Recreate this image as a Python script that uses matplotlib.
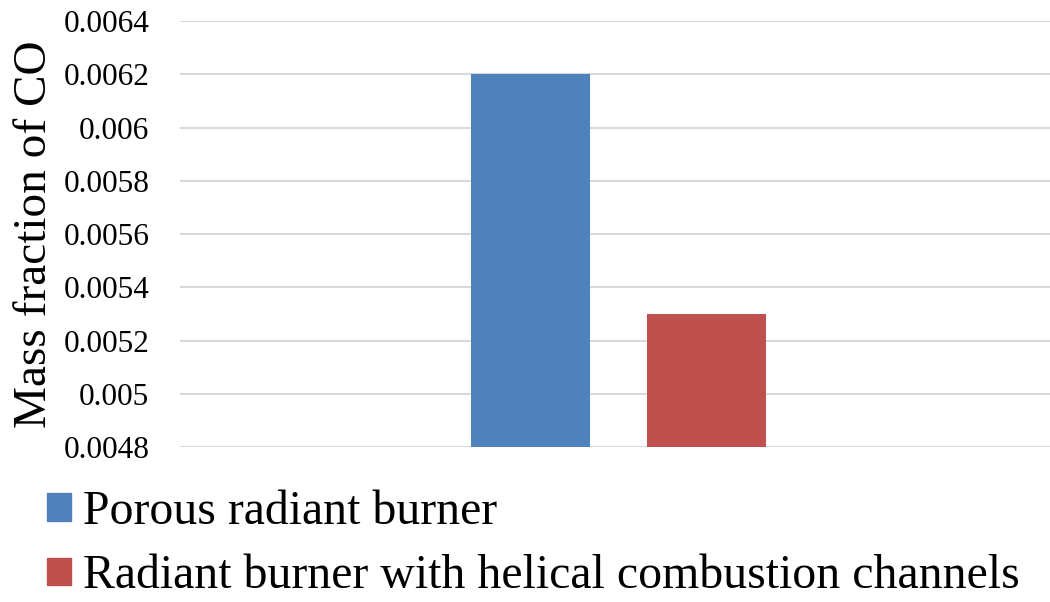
import matplotlib.pyplot as plt
import matplotlib.patches as mpatches
import numpy as np

plt.rcParams['font.family'] = ['Liberation Serif', 'DejaVu Serif']

series_names = ['Porous radiant burner', 'Radiant burner with helical combustion channels']
co_fraction = [0.0062, 0.0053]
colors = ['#4F81BD', '#C0504D']
yticks = np.round(np.arange(0.0048, 0.00641, 0.0002), 4)
ytick_labels = ['0.0048', '0.005', '0.0052', '0.0054', '0.0056', '0.0058', '0.006', '0.0062', '0.0064']

fig = plt.figure(figsize=(10.5, 6.02), dpi=100)
ax = fig.add_axes([0.1714, 0.2575, 0.8286, 0.7075])

offsets = [-0.097, 0.105]
for off, val, col in zip(offsets, co_fraction, colors):
    ax.bar(off, val - 0.0048, bottom=0.0048, width=0.136, color=col, zorder=3)

ax.set_xlim(-0.5, 0.5)
ax.set_ylim(0.0048, 0.0064)
ax.set_yticks(yticks)
ax.set_yticklabels(ytick_labels, fontsize=22.5)
ax.set_xticks([])
ax.tick_params(axis='y', length=0, pad=22)
ax.grid(axis='y', color='#D9D9D9', linewidth=1.5, zorder=0)
for s in ax.spines.values():
    s.set_visible(False)

ax.set_ylabel('Mass fraction of CO', fontsize=34)
ax.yaxis.set_label_coords(-0.143, 0.5)

handles = [mpatches.Patch(color=c) for c in colors]
fig.legend(handles, series_names, loc='upper left', bbox_to_anchor=(0.045, 0.186),
           bbox_transform=fig.transFigure, frameon=False, fontsize=34.4,
           handlelength=0.5, handleheight=0.5, handletextpad=0.25,
           labelspacing=0.42, borderpad=0, borderaxespad=0)

fig.savefig('out.png', dpi=100)
